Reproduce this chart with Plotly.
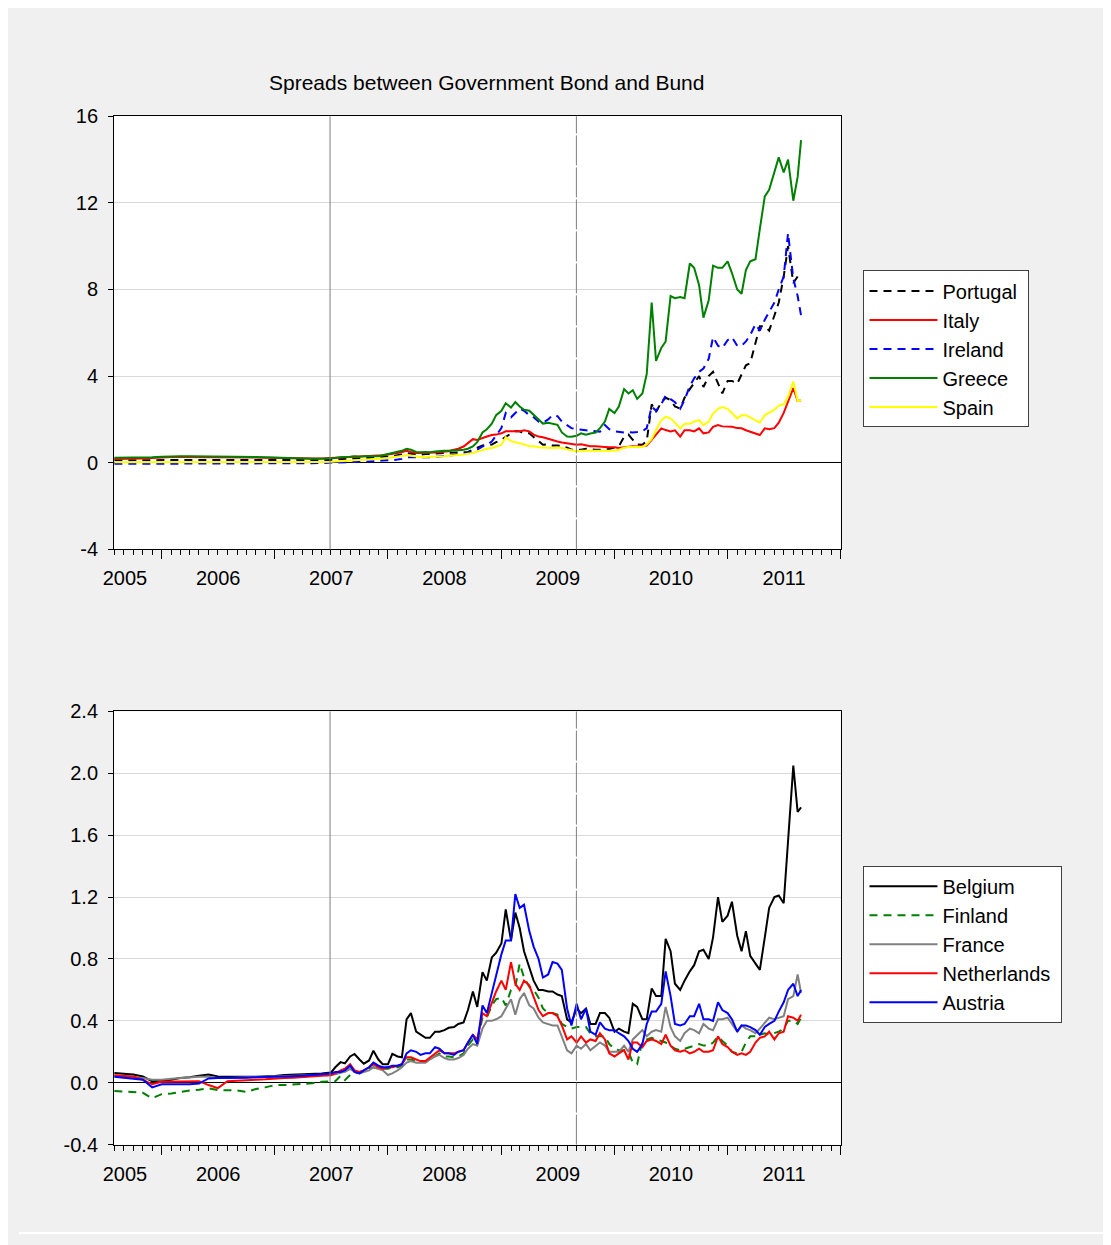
import pandas as pd
import plotly.graph_objects as go

# ---------------- dates (monthly to mid-2007, then semi-monthly) ----------------
dates = (list(pd.date_range("2005-08-01", "2007-06-01", freq="MS"))
         + list(pd.date_range("2007-07-01", "2011-08-15", freq="SMS"))
         + [pd.Timestamp("2011-08-26")])

# ---------------- top panel series ----------------
portugal = ([0.12,0.12,0.12,0.13,0.13, 0.13,0.14,0.14,0.14,0.14,0.14,0.13,0.13,0.13,0.13,0.12,0.12, 0.12,0.12,0.11,0.11,0.12,0.12]
            + [0.13,0.15,0.18,0.18,0.20,0.20,0.20,0.22,0.22,0.24,0.25,0.27]
            + [0.30,0.30,0.35,0.38,0.45,0.42,0.40,0.38,0.40,0.40,0.42,0.44, 0.45,0.45,0.45,0.45,0.46,0.50,0.60,0.70,0.80,0.83,0.84,0.95]
            + [1.06,1.20,1.35,1.47,1.45,1.36,1.36,1.20,1.00,0.83,0.85,0.80, 0.80,0.78,0.70,0.60,0.60,0.60,0.65,0.62,0.60,0.60,0.63,0.63]
            + [0.70,0.76,1.20,1.30,1.06,0.85,0.83,1.00,2.70,2.34,2.80,3.00, 2.90,2.60,2.50,3.00,3.40,3.70,4.00,3.50,4.00,4.20,3.70,3.20]
            + [3.78,3.78,3.65,4.10,4.50,4.60,5.50,6.30,6.30,6.10,6.80,7.40,8.60,10.00,8.30,8.60,8.76])
italy = ([0.17,0.17,0.18,0.20,0.22, 0.25,0.27,0.27,0.27,0.27,0.27,0.26,0.26,0.25,0.24,0.24,0.23, 0.22,0.20,0.20,0.20,0.20,0.20]
         + [0.22,0.24,0.26,0.27,0.28,0.30,0.28,0.30,0.30,0.32,0.32,0.35]
         + [0.38,0.40,0.45,0.50,0.55,0.50,0.45,0.45,0.45,0.45,0.47,0.50, 0.52,0.53,0.60,0.65,0.75,0.90,1.09,1.05,1.15,1.21,1.28,1.30]
         + [1.36,1.45,1.45,1.44,1.45,1.50,1.45,1.30,1.21,1.18,1.10,1.03, 0.98,0.94,0.90,0.85,0.83,0.85,0.80,0.76,0.76,0.76,0.73,0.72]
         + [0.72,0.68,0.72,0.76,0.76,0.75,0.76,0.80,1.06,1.28,1.59,1.51, 1.45,1.50,1.21,1.50,1.50,1.45,1.59,1.36,1.40,1.66,1.74,1.68]
         + [1.66,1.66,1.60,1.59,1.50,1.43,1.38,1.28,1.59,1.55,1.60,1.85,2.30,2.85,3.45,2.85,2.87])
ireland = ([-0.05,-0.05,-0.04,-0.04,-0.04, -0.04,-0.04,-0.05,-0.05,-0.05,-0.05,-0.05,-0.05,-0.05,-0.05,-0.04,-0.04, -0.03,-0.03,-0.02,-0.02,-0.02,-0.01]
           + [0.00,0.01,0.02,0.02,0.03,0.03,0.04,0.04,0.05,0.06,0.08,0.10]
           + [0.10,0.12,0.15,0.18,0.25,0.25,0.22,0.22,0.25,0.25,0.27,0.30, 0.30,0.33,0.36,0.38,0.40,0.45,0.55,0.60,0.75,0.83,0.98,1.28]
           + [1.60,2.30,2.10,2.30,2.50,2.40,2.20,2.10,1.90,1.85,2.00,2.20, 2.15,1.90,1.74,1.60,1.55,1.51,1.50,1.48,1.45,1.43,1.74,1.55]
           + [1.45,1.42,1.40,1.42,1.40,1.42,1.45,1.60,2.60,2.40,2.70,3.10, 2.95,2.80,2.50,2.90,3.55,3.90,4.20,4.35,4.80,5.80,5.40,5.30]
           + [5.66,5.80,5.40,5.40,5.60,5.90,6.40,6.10,6.60,6.95,7.40,8.00,8.60,10.60,8.50,7.70,6.80])
greece = ([0.23,0.23,0.24,0.25,0.26, 0.28,0.30,0.30,0.30,0.30,0.29,0.28,0.28,0.28,0.27,0.27,0.26, 0.24,0.22,0.20,0.19,0.18,0.18]
          + [0.20,0.22,0.26,0.26,0.28,0.30,0.28,0.30,0.30,0.32,0.30,0.35]
          + [0.40,0.45,0.50,0.55,0.65,0.60,0.50,0.48,0.50,0.49,0.52,0.55, 0.55,0.55,0.58,0.58,0.60,0.65,0.75,0.95,1.40,1.55,1.80,2.20]
          + [2.40,2.75,2.55,2.80,2.60,2.45,2.40,2.20,1.97,1.81,1.85,1.80, 1.75,1.40,1.21,1.20,1.25,1.36,1.30,1.35,1.39,1.60,1.90,2.49]
          + [2.30,2.60,3.40,3.20,3.35,2.95,3.20,4.10,7.40,4.70,5.30,5.60, 7.70,7.60,7.65,7.60,9.20,9.00,8.20,6.70,7.50,9.10,9.00,9.00]
          + [9.30,8.76,8.00,7.80,8.90,9.30,9.40,10.80,12.30,12.60,13.40,14.10,13.40,14.00,12.10,13.20,14.90])
spain = ([0.02,0.02,0.02,0.02,0.02, 0.02,0.02,0.02,0.01,0.01,0.01,0.01,0.01,0.01,0.01,0.02,0.02, 0.02,0.03,0.03,0.03,0.04,0.04]
         + [0.05,0.06,0.08,0.10,0.10,0.12,0.12,0.13,0.15,0.17,0.18,0.20]
         + [0.22,0.25,0.28,0.30,0.35,0.32,0.28,0.27,0.27,0.27,0.27,0.28, 0.30,0.32,0.33,0.35,0.38,0.42,0.45,0.52,0.60,0.65,0.68,0.75]
         + [0.83,1.18,1.00,0.95,0.91,0.85,0.76,0.76,0.72,0.70,0.68,0.68, 0.70,0.68,0.62,0.57,0.53,0.55,0.55,0.53,0.53,0.53,0.53,0.55]
         + [0.55,0.60,0.70,0.73,0.73,0.72,0.73,0.85,1.10,1.50,1.97,2.12, 2.05,1.85,1.59,1.80,1.80,1.90,1.97,1.74,1.90,2.27,2.49,2.57]
         + [2.49,2.30,2.05,2.19,2.19,2.10,1.96,1.85,2.20,2.30,2.45,2.64,2.70,3.05,3.75,2.85,2.87])

# ---------------- bottom panel series ----------------
belgium = ([0.063,0.058,0.053,0.040,0.010, 0.015,0.020,0.030,0.035,0.045,0.053,0.040,0.038,0.038,0.038,0.038,0.040, 0.044,0.050,0.052,0.055,0.058,0.060]
           + [0.066,0.100,0.133,0.125,0.170,0.186,0.150,0.123,0.144,0.207,0.150,0.120]
           + [0.120,0.186,0.170,0.165,0.410,0.450,0.330,0.310,0.290,0.290,0.330,0.330, 0.340,0.355,0.360,0.380,0.390,0.470,0.590,0.490,0.715,0.660,0.810,0.840]
           + [0.900,1.120,0.920,1.100,1.000,0.850,0.740,0.660,0.600,0.600,0.590,0.590, 0.570,0.560,0.410,0.390,0.480,0.450,0.480,0.380,0.380,0.450,0.450,0.420]
           + [0.330,0.350,0.330,0.320,0.510,0.490,0.410,0.410,0.610,0.560,0.560,0.930, 0.850,0.640,0.600,0.660,0.720,0.760,0.850,0.860,0.800,0.940,1.200,1.040]
           + [1.080,1.170,0.950,0.850,0.980,0.820,0.770,0.730,0.940,1.130,1.200,1.210,1.160,1.570,2.050,1.750,1.780])
finland = ([-0.053,-0.058,-0.060,-0.065,-0.100, -0.074,-0.070,-0.060,-0.050,-0.045,-0.036,-0.047,-0.050,-0.050,-0.060,-0.040,-0.030, -0.015,-0.015,-0.012,-0.010,-0.004,0.006]
           + [0.006,0.010,0.045,0.017,0.050,0.060,0.070,0.080,0.090,0.100,0.090,0.090]
           + [0.090,0.100,0.100,0.110,0.150,0.150,0.140,0.140,0.140,0.150,0.170,0.190, 0.170,0.170,0.165,0.170,0.190,0.240,0.280,0.270,0.420,0.420,0.500,0.540]
           + [0.550,0.500,0.600,0.620,0.770,0.680,0.620,0.600,0.550,0.480,0.450,0.450, 0.440,0.380,0.360,0.350,0.360,0.360,0.360,0.320,0.300,0.300,0.300,0.250]
           + [0.220,0.210,0.210,0.200,0.130,0.120,0.270,0.280,0.290,0.280,0.270,0.260, 0.240,0.220,0.210,0.220,0.230,0.240,0.250,0.240,0.240,0.260,0.300,0.270]
           + [0.240,0.200,0.190,0.200,0.260,0.300,0.300,0.310,0.320,0.310,0.320,0.330,0.350,0.400,0.400,0.380,0.420])
france = ([0.045,0.040,0.035,0.030,0.020, 0.020,0.025,0.030,0.035,0.038,0.038,0.030,0.030,0.032,0.034,0.035,0.036, 0.038,0.040,0.042,0.044,0.046,0.048]
          + [0.050,0.055,0.065,0.070,0.090,0.070,0.060,0.070,0.080,0.100,0.090,0.080]
          + [0.050,0.060,0.080,0.100,0.130,0.140,0.130,0.130,0.130,0.150,0.170,0.180, 0.160,0.150,0.150,0.160,0.180,0.220,0.250,0.240,0.350,0.400,0.400,0.410]
          + [0.430,0.480,0.540,0.440,0.540,0.580,0.500,0.480,0.420,0.390,0.380,0.370, 0.370,0.300,0.210,0.190,0.240,0.220,0.250,0.210,0.240,0.260,0.240,0.200]
          + [0.200,0.200,0.240,0.200,0.280,0.310,0.340,0.300,0.330,0.340,0.330,0.490, 0.360,0.300,0.270,0.320,0.350,0.340,0.320,0.380,0.350,0.340,0.410,0.410]
          + [0.420,0.380,0.330,0.370,0.350,0.340,0.320,0.350,0.390,0.420,0.410,0.420,0.430,0.540,0.560,0.700,0.580])
netherlands = ([0.049,0.045,0.040,0.020,-0.010, 0.006,0.008,0.010,0.010,0.010,-0.015,-0.035,0.010,0.015,0.017,0.020,0.022, 0.028,0.030,0.032,0.035,0.040,0.045]
               + [0.049,0.060,0.080,0.090,0.120,0.080,0.070,0.080,0.100,0.120,0.100,0.090]
               + [0.100,0.100,0.110,0.120,0.165,0.165,0.150,0.140,0.140,0.160,0.186,0.210, 0.190,0.190,0.190,0.200,0.210,0.260,0.310,0.280,0.450,0.430,0.510,0.590]
               + [0.660,0.600,0.780,0.640,0.600,0.660,0.630,0.560,0.470,0.430,0.450,0.450, 0.430,0.370,0.280,0.300,0.260,0.300,0.260,0.280,0.270,0.320,0.280,0.190]
               + [0.170,0.190,0.210,0.150,0.260,0.260,0.230,0.270,0.280,0.270,0.250,0.310, 0.240,0.210,0.200,0.210,0.190,0.200,0.220,0.200,0.200,0.210,0.300,0.250]
               + [0.230,0.200,0.180,0.190,0.180,0.200,0.260,0.290,0.300,0.330,0.280,0.320,0.330,0.430,0.420,0.400,0.440])
austria = ([0.038,0.032,0.028,0.020,-0.030, -0.010,-0.010,-0.010,-0.010,-0.005,0.028,0.030,0.030,0.032,0.033,0.035,0.036, 0.038,0.040,0.042,0.045,0.050,0.055]
           + [0.060,0.070,0.070,0.080,0.110,0.070,0.060,0.080,0.100,0.130,0.110,0.100]
           + [0.100,0.110,0.110,0.120,0.190,0.210,0.200,0.180,0.190,0.190,0.230,0.220, 0.190,0.190,0.180,0.200,0.210,0.260,0.310,0.250,0.500,0.450,0.580,0.680]
           + [0.830,0.920,0.920,1.220,1.130,1.150,0.980,0.880,0.800,0.680,0.700,0.780, 0.770,0.730,0.480,0.370,0.510,0.410,0.480,0.330,0.310,0.390,0.350,0.340]
           + [0.340,0.320,0.300,0.270,0.220,0.200,0.250,0.380,0.460,0.460,0.510,0.720, 0.560,0.380,0.370,0.380,0.430,0.430,0.510,0.410,0.410,0.400,0.520,0.470]
           + [0.450,0.410,0.330,0.370,0.370,0.360,0.340,0.310,0.360,0.380,0.400,0.460,0.520,0.600,0.640,0.560,0.600])

# ---------------- axis labels / events ----------------
year_label_dates = ["2005-09-04", "2006-07-02", "2007-07-02", "2008-07-01", "2009-07-02", "2010-07-02", "2011-07-02"]
year_labels = ["2005", "2006", "2007", "2008", "2009", "2010", "2011"]
top_yticks = [-4, 0, 4, 8, 12, 16]
top_ylabels = ["-4", "0", "4", "8", "12", "16"]
bot_yticks = [-0.4, 0.0, 0.4, 0.8, 1.2, 1.6, 2.0, 2.4]
bot_ylabels = ["-0.4", "0.0", "0.4", "0.8", "1.2", "1.6", "2.0", "2.4"]
event_dates = ["2007-06-28", "2009-08-31"]
title_text = "Spreads between Government Bond and Bund"

top_series = [("Portugal", portugal, "black", "8px,6px"),
              ("Italy", italy, "#ff0000", "solid"),
              ("Ireland", ireland, "#0000ff", "8px,6px"),
              ("Greece", greece, "#008000", "solid"),
              ("Spain", spain, "#ffff00", "solid")]
bot_series = [("Belgium", belgium, "black", "solid"),
              ("Finland", finland, "#008000", "8px,6px"),
              ("France", france, "#808080", "solid"),
              ("Netherlands", netherlands, "#ff0000", "solid"),
              ("Austria", austria, "#0000ff", "solid")]

# page body keeps an 8px margin, so the figure is laid out 8px in from the window edge
OFF = 8
W, H = 1111 - OFF, 1245 - OFF
FONT = "Liberation Sans, Arial, sans-serif"
PAD = "\u00a0"  # small right padding inside the legend boxes


def px(x):
    return (x - OFF) / W


def py(y):
    return (H - (y - OFF)) / H


xdom = [px(104), px(838)]
top_dom = [py(548), py(107)]
bot_dom = [py(1154), py(713)]
xrange_ = ["2005-07-31", "2012-01-01"]

fig = go.Figure()
for name, vals, col, dash in top_series:
    fig.add_trace(go.Scatter(x=dates, y=vals, name=name + PAD, mode="lines",
                             line=dict(color=col, width=2, dash=dash),
                             xaxis="x", yaxis="y", legend="legend"))
for name, vals, col, dash in bot_series:
    fig.add_trace(go.Scatter(x=dates, y=vals, name=name + PAD, mode="lines",
                             line=dict(color=col, width=2, dash=dash),
                             xaxis="x2", yaxis="y2", legend="legend2"))
# empty traces that carry the year-label axes
fig.add_trace(go.Scatter(x=[], y=[], xaxis="x3", yaxis="y", showlegend=False, hoverinfo="skip"))
fig.add_trace(go.Scatter(x=[], y=[], xaxis="x4", yaxis="y2", showlegend=False, hoverinfo="skip"))

tickax = dict(type="date", range=xrange_, showline=True, linecolor="black", linewidth=1, mirror=True,
              ticks="outside", tick0="2006-01-01", dtick="M12", ticklen=9, tickcolor="black",
              showticklabels=False, showgrid=False, zeroline=False,
              minor=dict(ticks="outside", dtick="M1", tick0="2006-01-01", ticklen=5, tickcolor="black", showgrid=False))
labax = dict(type="date", range=xrange_, showline=False, ticks="", showgrid=False, zeroline=False,
             tickmode="array", tickvals=year_label_dates, ticktext=year_labels,
             tickfont=dict(size=20, color="black", family=FONT), ticklabelstandoff=15)
yax = dict(showline=True, linecolor="black", linewidth=1, mirror=True, ticks="outside", ticklen=5,
           tickcolor="black", showgrid=True, gridcolor="#d9d9d9", gridwidth=1,
           zeroline=True, zerolinecolor="black", zerolinewidth=1,
           tickfont=dict(size=20, color="black", family=FONT), ticklabelstandoff=6, tickmode="array")
leg = dict(xanchor="left", yanchor="top", bgcolor="white", bordercolor="#404040", borderwidth=1,
           font=dict(size=20, family=FONT, color="black"), itemwidth=68, tracegroupgap=0)

fig.update_layout(
    width=W, height=H, autosize=False,
    margin=dict(l=0, r=0, t=0, b=0, pad=0),
    paper_bgcolor="#f0f0f0", plot_bgcolor="white",
    font=dict(family=FONT, size=20, color="black"),
    xaxis=dict(domain=xdom, anchor="y", **tickax),
    xaxis2=dict(domain=xdom, anchor="y2", **tickax),
    xaxis3=dict(domain=xdom, anchor="y", overlaying="x", matches="x", **labax),
    xaxis4=dict(domain=xdom, anchor="y2", overlaying="x2", matches="x2", **labax),
    yaxis=dict(domain=top_dom, anchor="x", range=[-4, 16], tickvals=top_yticks, ticktext=top_ylabels, **yax),
    yaxis2=dict(domain=bot_dom, anchor="x2", range=[-0.4, 2.4], tickvals=bot_yticks, ticktext=bot_ylabels, **yax),
    legend=dict(x=px(861), y=py(264), **leg),
    legend2=dict(x=px(861), y=py(870), **leg),
    showlegend=True,
    annotations=[dict(text=title_text, x=px(480.5), y=py(73), xref="paper", yref="paper",
                      showarrow=False, xanchor="center", yanchor="middle",
                      font=dict(size=21, family=FONT, color="black"))],
)

# event lines (vertical) on both panels
for i, d in enumerate(event_dates):
    dash = "solid" if i == 0 else "30px,2px"
    for xr, yr in (("x", "y"), ("x2", "y2")):
        fig.add_shape(type="line", xref=xr, yref=yr + " domain", x0=d, x1=d, y0=0, y1=1,
                      line=dict(color="#7f7f7f", width=1, dash=dash), layer="above")

# thin white page border on the right and bottom
for x0, x1, y0, y1 in ((px(1108), 1, 0, 1), (0, 1, 0, py(1243))):
    fig.add_shape(type="rect", xref="paper", yref="paper", x0=x0, x1=x1, y0=y0, y1=y1,
                  line=dict(width=0), fillcolor="white", layer="above")

fig.write_html("out.html", config={"displayModeBar": False})
